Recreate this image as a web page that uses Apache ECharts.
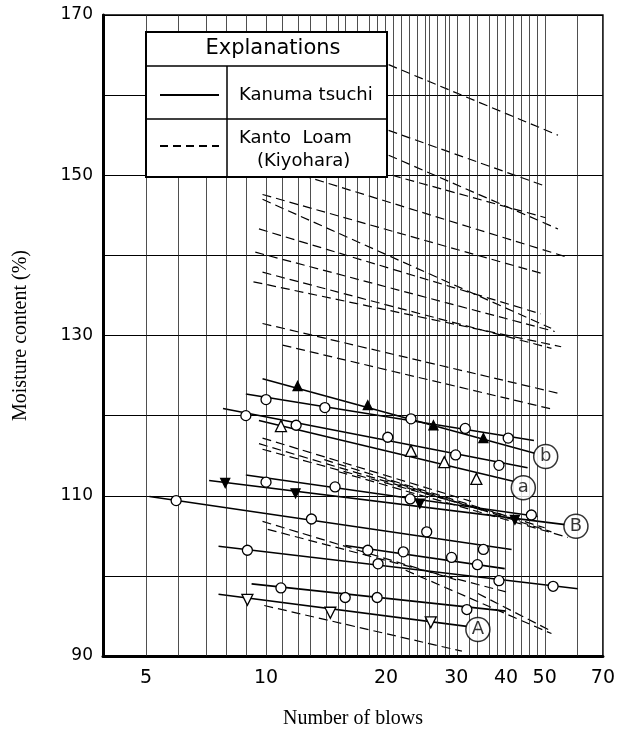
<!DOCTYPE html>
<html>
<head>
<meta charset="utf-8">
<script src="https://cdn.jsdelivr.net/npm/echarts@6/dist/echarts.min.js"></script>
<style>
  html, body { margin: 0; background: #fff; }
  #chart { width: 618px; height: 734px; }
</style>
</head>
<body>
<div id="chart"></div>
<script>
// x axis is logarithmic (number of blows), y is moisture content
var xLabels = [5, 10, 20, 30, 40, 50, 70];
var yLabels = [90, 110, 130, 150, 170];
var gridX = [5, 6, 7, 8, 9, 10, 11, 12, 13, 14, 15, 16, 17, 18, 19, 20, 21, 22, 23, 24, 25, 26, 27, 28, 29, 30,
             32, 34, 36, 38, 40, 42, 44, 46, 48, 50, 60];

// Kanuma tsuchi - solid lines [start, end]
var solidLines = [
  [[9.8, 124.6], [47.2, 115.3]],
  [[8.9, 122.7], [47.0, 116.9]],
  [[7.8, 120.9], [45.3, 113.5]],
  [[9.6, 119.4], [41.7, 111.8]],
  [[7.2, 111.9], [56.3, 106.4]],
  [[8.9, 112.6], [48.1, 107.4]],
  [[5.1, 109.9], [41.3, 103.3]],
  [[7.6, 103.7], [60.6, 98.4]],
  [[15.8, 103.8], [39.7, 100.9]],
  [[9.2, 99.0], [40.0, 95.6]],
  [[7.6, 97.7], [31.9, 93.7]]
];

var openCircles = [
  [10, 122.0], [14.05, 121.0], [23.1, 119.6], [31.6, 118.4], [40.5, 117.2],
  [8.9, 120.0], [11.9, 118.8], [20.2, 117.3], [29.9, 115.1], [38.4, 113.8],
  [10, 111.7], [14.9, 111.1], [23, 109.6], [46.3, 107.6],
  [5.95, 109.4], [13.0, 107.1], [25.3, 105.5], [35.1, 103.3],
  [8.98, 103.2], [19.1, 101.5], [38.4, 99.4], [52.5, 98.7],
  [18, 103.2], [22.1, 103.0], [29.2, 102.3], [33.9, 101.4],
  [10.9, 98.5], [15.8, 97.3], [19.0, 97.3], [31.9, 95.8]
];
var filledUp = [[12, 123.7], [18, 121.3], [26.3, 118.8], [35.1, 117.2]];
var openUp = [[10.9, 118.7], [23.1, 115.6], [28.0, 114.2], [33.7, 112.1]];
var filledDown = [[7.9, 111.6], [11.86, 110.3], [24.3, 109.0], [42.1, 107.0]];
var openDown = [[8.98, 97.0], [14.5, 95.4], [25.9, 94.2]];

var curveTags = [[50.3, 114.9, 'b'], [44.2, 111.0, 'a'], [59.9, 106.2, 'B'], [34.0, 93.3, 'A']];

// Kanto Loam (Kiyohara) - dashed lines [start, end]
var dashedLines = [
  [[20.3, 163.8], [54, 155.0]],
  [[20.3, 155.6], [50.5, 148.6]],
  [[20.3, 152.5], [54, 143.3]],
  [[20.7, 150.0], [50.3, 144.7]],
  [[12.3, 150.0], [56.7, 139.8]],
  [[9.8, 147.6], [49.5, 137.7]],
  [[9.8, 147.0], [51.9, 130.9]],
  [[9.6, 143.3], [48.9, 132.7]],
  [[9.4, 140.4], [53, 130.5]],
  [[9.8, 137.9], [52, 128.4]],
  [[9.3, 136.7], [55, 128.6]],
  [[9.8, 131.5], [54, 122.8]],
  [[11, 128.8], [52.3, 120.8]],
  [[9.8, 117.2], [32.7, 109.3]],
  [[9.6, 116.5], [36, 108.0]],
  [[9.8, 115.8], [40, 107.5]],
  [[15.2, 113.0], [57.2, 104.8]],
  [[14, 114.5], [50, 106.0]],
  [[20, 112.0], [52, 105.5]],
  [[9.8, 106.8], [30, 99.5]],
  [[10.1, 105.8], [40, 98.0]],
  [[9.9, 96.3], [31, 90.6]],
  [[22.4, 100.7], [52, 92.8]],
  [[34, 97.8], [52, 93.1]]
];

function lg(v) { return Math.log10(v); }
function pts(arr) { return arr.map(function (p) { return [lg(p[0]), p[1]]; }); }

var series = [];

series.push({
  type: 'scatter', data: [], silent: true, z: 1,
  markLine: {
    silent: true, symbol: ['none', 'none'], label: { show: false },
    lineStyle: { color: '#222', width: 0.8, type: 'solid' },
    data: gridX.map(function (v) { return { xAxis: lg(v) }; })
  }
});

solidLines.forEach(function (l) {
  series.push({ type: 'line', data: pts(l), symbol: 'none', silent: true, z: 3,
    lineStyle: { color: '#000', width: 1.6 } });
});
dashedLines.forEach(function (l) {
  series.push({ type: 'line', data: pts(l), symbol: 'none', silent: true, z: 3,
    lineStyle: { color: '#000', width: 1.2, type: [9, 5] } });
});

function markers(data, symbol, fill, size) {
  return { type: 'scatter', data: pts(data), symbol: symbol, symbolSize: size, z: 5,
    itemStyle: { color: fill, borderColor: '#000', borderWidth: 1.3, opacity: 1 } };
}
series.push(markers(openCircles, 'circle', '#fff', 10));
series.push(markers(filledUp, 'triangle', '#000', 9));
series.push(markers(openUp, 'triangle', '#fff', 11));
series.push(markers(filledDown, 'path://M0,0L2,0L1,1.7Z', '#000', 9));
series.push(markers(openDown, 'path://M0,0L2,0L1,1.7Z', '#fff', 11));

series.push({
  type: 'scatter', z: 6,
  data: curveTags.map(function (t) { return [lg(t[0]), t[1], t[2]]; }),
  symbol: 'circle', symbolSize: 24,
  itemStyle: { color: '#fff', borderColor: '#000', borderWidth: 1.5 },
  label: { show: true, position: 'inside', color: '#000', fontSize: 18,
    fontFamily: 'DejaVu Sans', formatter: function (p) { return p.data[2]; } }
});

var lx = 146, ly = 32, lw = 241, lh = 145;
var option = {
  animation: false,
  backgroundColor: '#fff',
  grid: { left: 103, right: 12, top: 15, bottom: 71, show: true,
    borderColor: '#000', borderWidth: 1.5, backgroundColor: 'transparent' },
  xAxis: {
    type: 'value', min: lg(3.9), max: lg(70),
    name: 'Number of blows', nameLocation: 'middle', nameGap: 53,
    nameTextStyle: { fontFamily: 'Liberation Serif', fontSize: 20, color: '#000' },
    axisLine: { show: true, onZero: false, lineStyle: { color: '#000', width: 3 } },
    axisTick: { show: false },
    splitLine: { show: false },
    axisLabel: { customValues: xLabels.map(lg), color: '#000', fontSize: 19,
      fontFamily: 'DejaVu Sans', margin: 13,
      formatter: function (v) { return String(Math.round(Math.pow(10, v))); } }
  },
  yAxis: {
    type: 'value', min: 90, max: 170, interval: 10,
    name: 'Moisture content (%)', nameLocation: 'middle', nameGap: 72,
    nameTextStyle: { fontFamily: 'Liberation Serif', fontSize: 20, color: '#000' },
    axisLine: { show: true, lineStyle: { color: '#000', width: 3 } },
    axisTick: { show: false },
    splitLine: { show: true, lineStyle: { color: '#000', width: 1 } },
    axisLabel: { color: '#000', fontSize: 17, fontFamily: 'DejaVu Sans', margin: 10,
      formatter: function (v) { return yLabels.indexOf(v) >= 0 ? String(v) : ''; } }
  },
  graphic: [
    { type: 'rect', z: 10, shape: { x: lx, y: ly, width: lw, height: lh },
      style: { fill: '#fff', stroke: '#000', lineWidth: 2 } },
    { type: 'line', z: 11, shape: { x1: lx, y1: 66, x2: lx + lw, y2: 66 }, style: { stroke: '#000', lineWidth: 1.5 } },
    { type: 'line', z: 11, shape: { x1: lx, y1: 119, x2: lx + lw, y2: 119 }, style: { stroke: '#000', lineWidth: 1.5 } },
    { type: 'line', z: 11, shape: { x1: 227, y1: 66, x2: 227, y2: ly + lh }, style: { stroke: '#000', lineWidth: 1.5 } },
    { type: 'line', z: 11, shape: { x1: 160, y1: 95, x2: 219, y2: 95 }, style: { stroke: '#000', lineWidth: 2 } },
    { type: 'line', z: 11, shape: { x1: 160, y1: 146, x2: 219, y2: 146 }, style: { stroke: '#000', lineWidth: 2, lineDash: [8, 5] } },
    { type: 'text', z: 11, x: 273, y: 49, style: { text: 'Explanations', fill: '#000', font: '21px DejaVu Sans', align: 'center', verticalAlign: 'middle' } },
    { type: 'text', z: 11, x: 239, y: 95, style: { text: 'Kanuma tsuchi', fill: '#000', font: '18px DejaVu Sans', verticalAlign: 'middle' } },
    { type: 'text', z: 11, x: 239, y: 138, style: { text: 'Kanto  Loam', fill: '#000', font: '18px DejaVu Sans', verticalAlign: 'middle' } },
    { type: 'text', z: 11, x: 257, y: 161, style: { text: '(Kiyohara)', fill: '#000', font: '18px DejaVu Sans', verticalAlign: 'middle' } }
  ],
  series: series
};

var chart = echarts.init(document.getElementById('chart'));
chart.setOption(option);
</script>
</body>
</html>
